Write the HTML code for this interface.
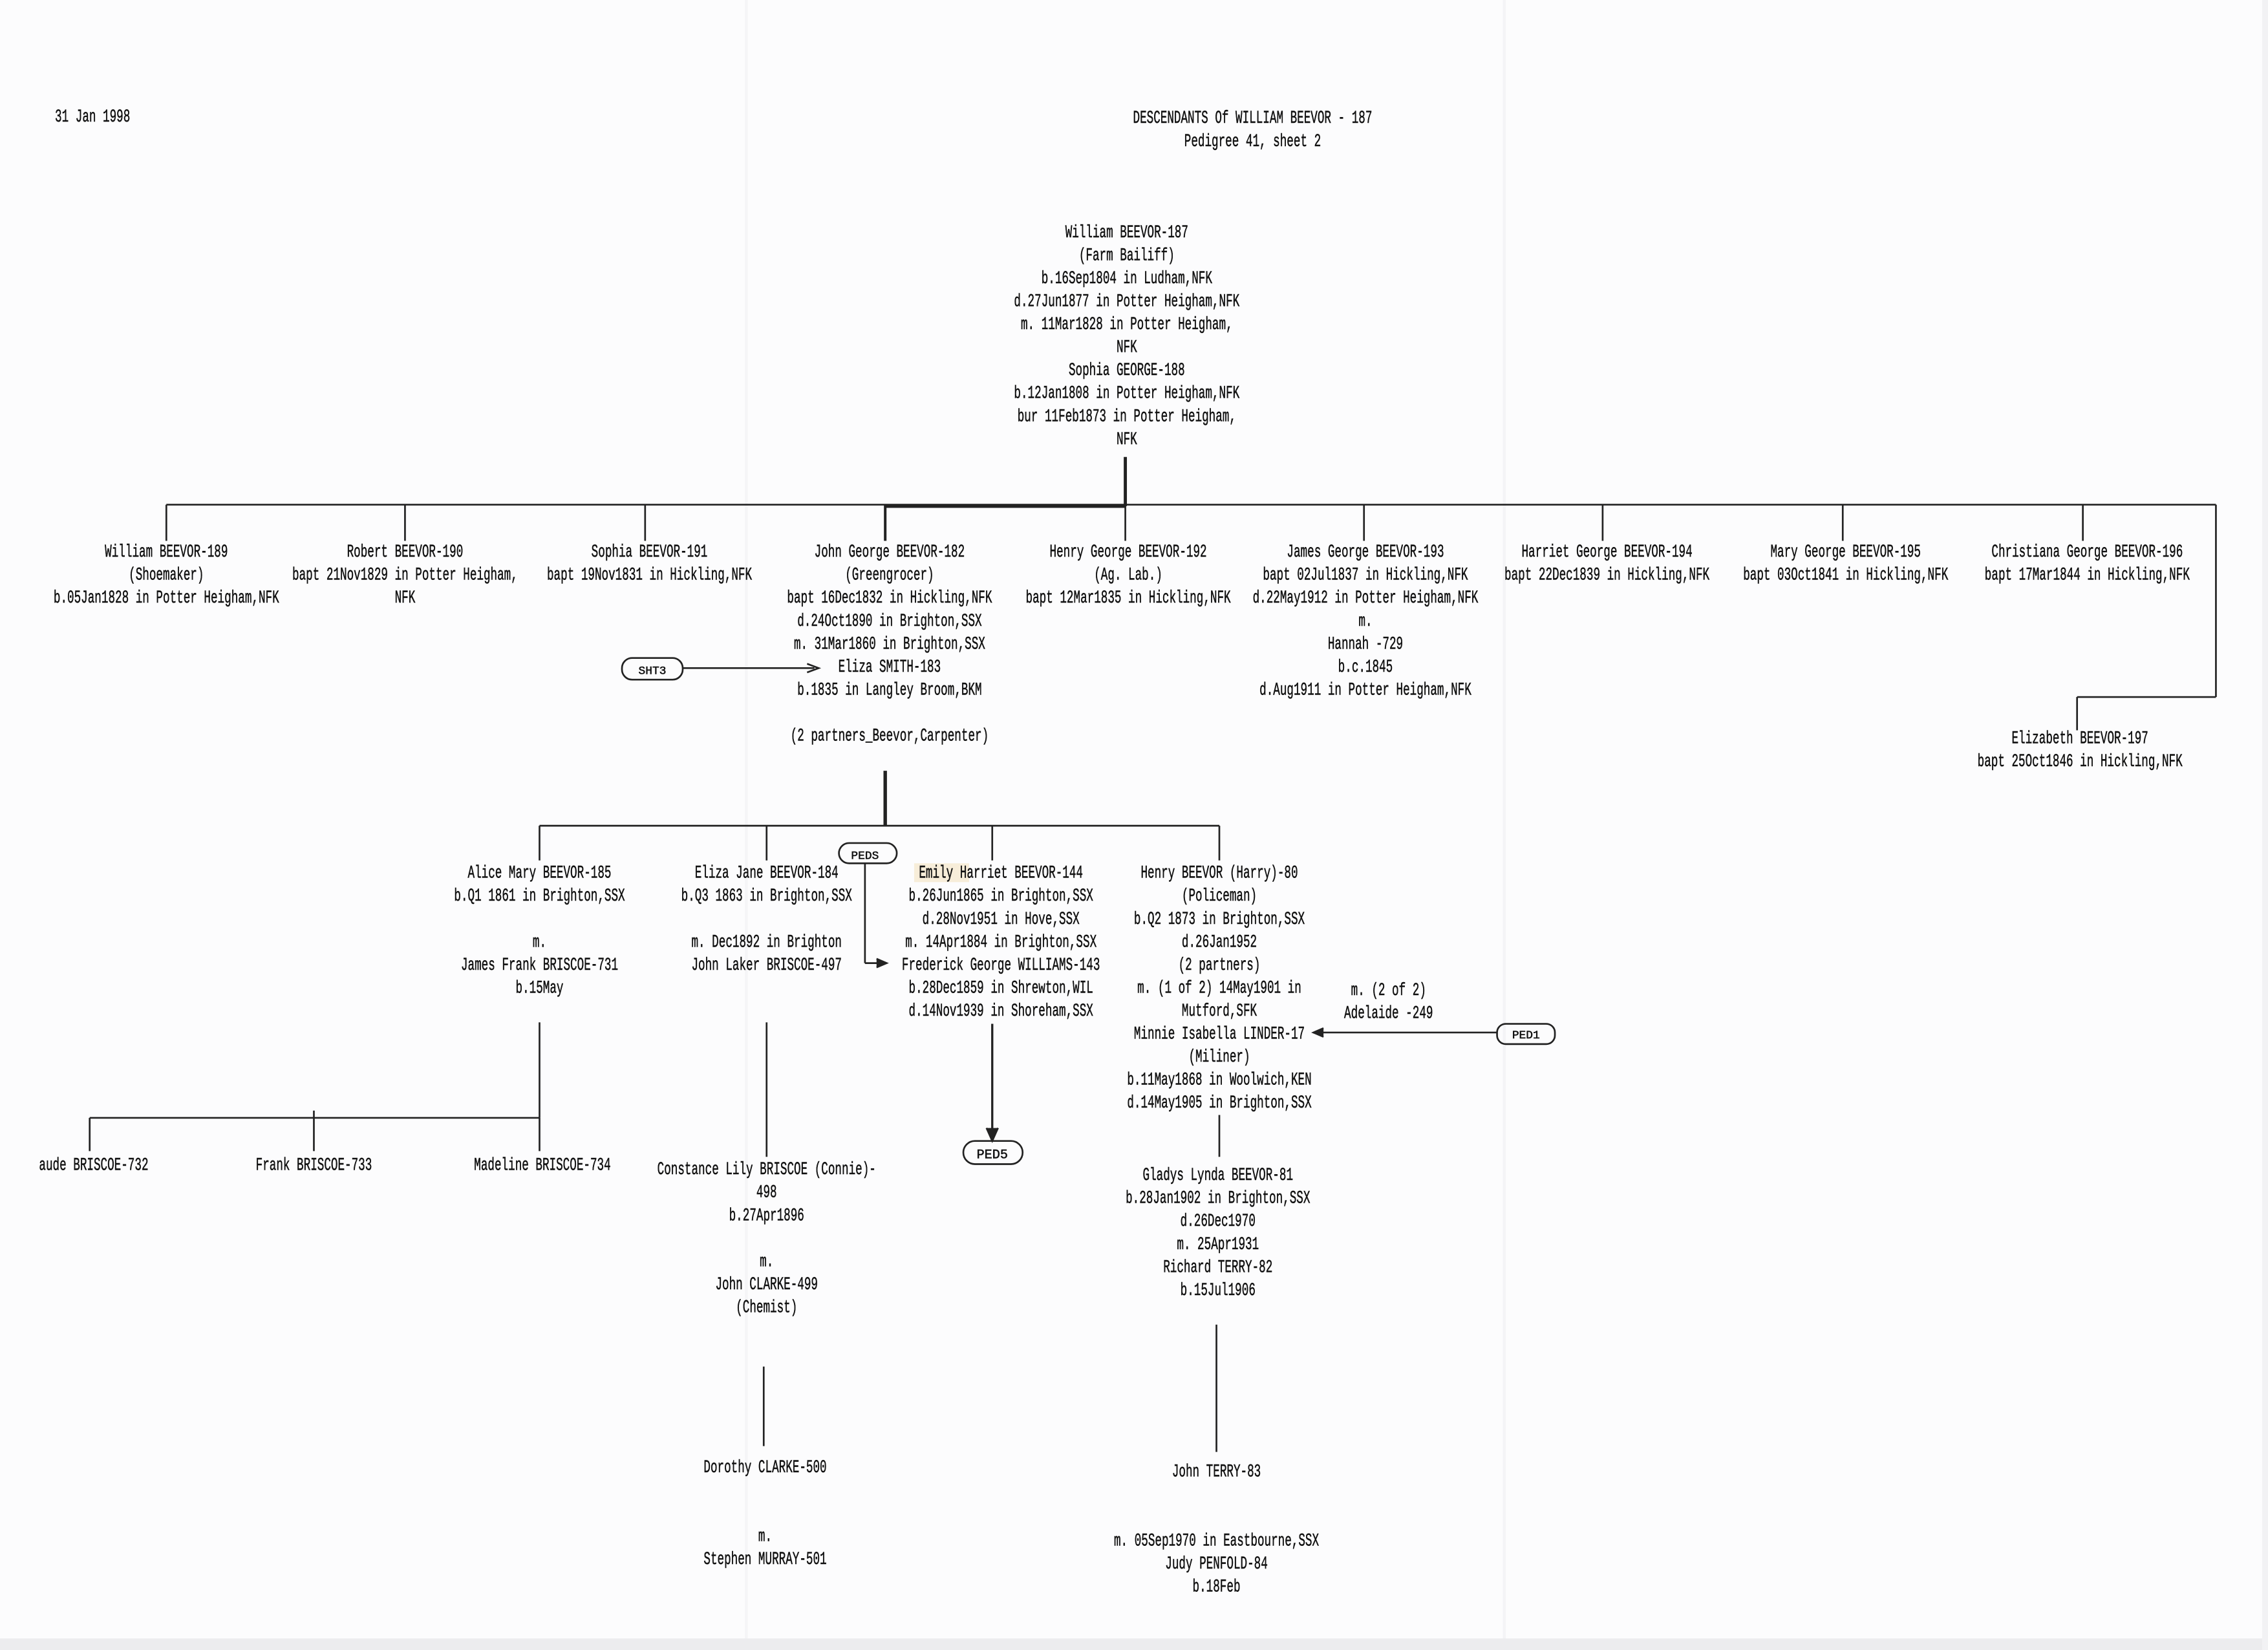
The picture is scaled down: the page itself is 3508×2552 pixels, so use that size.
<!DOCTYPE html>
<html><head><meta charset="utf-8"><style>
html,body{margin:0;padding:0;background:#fcfcfd;}
svg{display:block}
text{font-family:"Liberation Mono",monospace;font-size:12.5px;fill:#111;text-anchor:middle;stroke:#111;stroke-width:0.25px}
</style></head><body>
<svg width="3508" height="2552" viewBox="0 0 1568 1141" preserveAspectRatio="none" xmlns="http://www.w3.org/2000/svg">
<rect x="0" y="0" width="1568" height="1141" fill="#fcfcfd"/>
<rect x="515" y="0" width="2" height="1141" fill="#f5f5f7"/>
<rect x="1039" y="0" width="2" height="1141" fill="#f4f4f6"/>
<rect x="0" y="1133" width="1568" height="8" fill="#ececee"/>
<rect x="1564" y="0" width="4" height="1141" fill="#f2f2f4"/>

<g stroke="#222" fill="none" stroke-width="1.2">
<line x1="778" y1="316" x2="778" y2="350" stroke-width="2.2"/>
<line x1="115" y1="349" x2="1532" y2="349"/>
<line x1="612" y1="350" x2="778" y2="350" stroke-width="2.4"/>
<line x1="115" y1="349" x2="115" y2="374"/>
<line x1="280" y1="349" x2="280" y2="374"/>
<line x1="446" y1="349" x2="446" y2="374"/>
<line x1="612" y1="349" x2="612" y2="374" stroke-width="1.8"/>
<line x1="778" y1="349" x2="778" y2="374"/>
<line x1="943" y1="349" x2="943" y2="374"/>
<line x1="1108" y1="349" x2="1108" y2="374"/>
<line x1="1274" y1="349" x2="1274" y2="374"/>
<line x1="1440" y1="349" x2="1440" y2="374"/>
<line x1="1532" y1="349" x2="1532" y2="482"/>
<line x1="1436" y1="482" x2="1532" y2="482"/>
<line x1="1436" y1="482" x2="1436" y2="505"/>
<rect x="430" y="455" width="42" height="15" rx="7"/>
<line x1="472" y1="462" x2="563" y2="462"/>
<path d="M558 459 L566 462 L558 465"/>
<line x1="612" y1="533" x2="612" y2="571" stroke-width="2.4"/>
<line x1="373" y1="571" x2="843" y2="571"/>
<line x1="373" y1="571" x2="373" y2="595"/>
<line x1="530" y1="571" x2="530" y2="595"/>
<line x1="686" y1="571" x2="686" y2="595"/>
<line x1="843" y1="571" x2="843" y2="595"/>
<rect x="580" y="583" width="40" height="14" rx="7"/>
<line x1="598" y1="597" x2="598" y2="666"/>
<line x1="598" y1="666" x2="610" y2="666"/>
<path d="M606 663 L613 666 L606 669" fill="#222"/>
<rect x="1035" y="708" width="40" height="14" rx="6"/>
<line x1="910" y1="714" x2="1035" y2="714"/>
<path d="M915 711 L908 714 L915 717" fill="#222"/>
<line x1="373" y1="707" x2="373" y2="773"/>
<line x1="62" y1="773" x2="373" y2="773"/>
<line x1="62" y1="773" x2="62" y2="796"/>
<line x1="217" y1="768" x2="217" y2="796"/>
<line x1="373" y1="773" x2="373" y2="796"/>
<line x1="530" y1="707" x2="530" y2="800"/>
<line x1="686" y1="708" x2="686" y2="788" stroke-width="1.5"/>
<path d="M682 780 L686 789 L690 780" fill="#222"/>
<rect x="666" y="789" width="41" height="16" rx="8"/>
<line x1="843" y1="771" x2="843" y2="800"/>
<line x1="528" y1="945" x2="528" y2="1000"/>
<line x1="841" y1="916" x2="841" y2="1004"/>
</g>

<g>
<text x="598" y="594" style="font-size:8px">PEDS</text>
<text x="451" y="466" style="font-size:8px">SHT3</text>
<text x="1055" y="718" style="font-size:8px">PED1</text>
<text x="686" y="801" style="font-size:9px">PED5</text>
</g>

<g transform="translate(64,84) scale(.63,1)"><text>31 Jan 1998</text></g>
<g transform="translate(866,85) scale(.63,1)"><text><tspan x="0" y="0">DESCENDANTS Of WILLIAM BEEVOR - 187</tspan><tspan x="0" y="16">Pedigree 41, sheet 2</tspan></text></g>

<g transform="translate(779,164) scale(.63,1)"><text>
<tspan x="0" y="0">William BEEVOR-187</tspan><tspan x="0" y="15.9">(Farm Bailiff)</tspan><tspan x="0" y="31.8">b.16Sep1804 in Ludham,NFK</tspan><tspan x="0" y="47.7">d.27Jun1877 in Potter Heigham,NFK</tspan><tspan x="0" y="63.6">m. 11Mar1828 in Potter Heigham,</tspan><tspan x="0" y="79.5">NFK</tspan><tspan x="0" y="95.4">Sophia GEORGE-188</tspan><tspan x="0" y="111.3">b.12Jan1808 in Potter Heigham,NFK</tspan><tspan x="0" y="127.2">bur 11Feb1873 in Potter Heigham,</tspan><tspan x="0" y="143.1">NFK</tspan></text></g>

<g transform="translate(115,385) scale(.63,1)"><text><tspan x="0" y="0">William BEEVOR-189</tspan><tspan x="0" y="15.9">(Shoemaker)</tspan><tspan x="0" y="31.8">b.05Jan1828 in Potter Heigham,NFK</tspan></text></g>
<g transform="translate(280,385) scale(.63,1)"><text><tspan x="0" y="0">Robert BEEVOR-190</tspan><tspan x="0" y="15.9">bapt 21Nov1829 in Potter Heigham,</tspan><tspan x="0" y="31.8">NFK</tspan></text></g>
<g transform="translate(449,385) scale(.63,1)"><text><tspan x="0" y="0">Sophia BEEVOR-191</tspan><tspan x="0" y="15.9">bapt 19Nov1831 in Hickling,NFK</tspan></text></g>
<g transform="translate(615,385) scale(.63,1)"><text><tspan x="0" y="0">John George BEEVOR-182</tspan><tspan x="0" y="15.9">(Greengrocer)</tspan><tspan x="0" y="31.8">bapt 16Dec1832 in Hickling,NFK</tspan><tspan x="0" y="47.7">d.24Oct1890 in Brighton,SSX</tspan><tspan x="0" y="63.6">m. 31Mar1860 in Brighton,SSX</tspan><tspan x="0" y="79.5">Eliza SMITH-183</tspan><tspan x="0" y="95.4">b.1835 in Langley Broom,BKM</tspan><tspan x="0" y="127.2">(2 partners_Beevor,Carpenter)</tspan></text></g>
<g transform="translate(780,385) scale(.63,1)"><text><tspan x="0" y="0">Henry George BEEVOR-192</tspan><tspan x="0" y="15.9">(Ag. Lab.)</tspan><tspan x="0" y="31.8">bapt 12Mar1835 in Hickling,NFK</tspan></text></g>
<g transform="translate(944,385) scale(.63,1)"><text><tspan x="0" y="0">James George BEEVOR-193</tspan><tspan x="0" y="15.9">bapt 02Jul1837 in Hickling,NFK</tspan><tspan x="0" y="31.8">d.22May1912 in Potter Heigham,NFK</tspan><tspan x="0" y="47.7">m.</tspan><tspan x="0" y="63.6">Hannah -729</tspan><tspan x="0" y="79.5">b.c.1845</tspan><tspan x="0" y="95.4">d.Aug1911 in Potter Heigham,NFK</tspan></text></g>
<g transform="translate(1111,385) scale(.63,1)"><text><tspan x="0" y="0">Harriet George BEEVOR-194</tspan><tspan x="0" y="15.9">bapt 22Dec1839 in Hickling,NFK</tspan></text></g>
<g transform="translate(1276,385) scale(.63,1)"><text><tspan x="0" y="0">Mary George BEEVOR-195</tspan><tspan x="0" y="15.9">bapt 03Oct1841 in Hickling,NFK</tspan></text></g>
<g transform="translate(1443,385) scale(.63,1)"><text><tspan x="0" y="0">Christiana George BEEVOR-196</tspan><tspan x="0" y="15.9">bapt 17Mar1844 in Hickling,NFK</tspan></text></g>
<g transform="translate(1438,514) scale(.63,1)"><text><tspan x="0" y="0">Elizabeth BEEVOR-197</tspan><tspan x="0" y="15.9">bapt 25Oct1846 in Hickling,NFK</tspan></text></g>

<g transform="translate(373,607) scale(.63,1)"><text><tspan x="0" y="0">Alice Mary BEEVOR-185</tspan><tspan x="0" y="15.9">b.Q1 1861 in Brighton,SSX</tspan><tspan x="0" y="47.7">m.</tspan><tspan x="0" y="63.6">James Frank BRISCOE-731</tspan><tspan x="0" y="79.5">b.15May</tspan></text></g>
<g transform="translate(530,607) scale(.63,1)"><text><tspan x="0" y="0">Eliza Jane BEEVOR-184</tspan><tspan x="0" y="15.9">b.Q3 1863 in Brighton,SSX</tspan><tspan x="0" y="47.7">m. Dec1892 in Brighton</tspan><tspan x="0" y="63.6">John Laker BRISCOE-497</tspan></text></g>
<rect x="632" y="597" width="38" height="13" fill="#f4e3c2" opacity=".6"/>
<g transform="translate(692,607) scale(.63,1)"><text><tspan x="0" y="0">Emily Harriet BEEVOR-144</tspan><tspan x="0" y="15.9">b.26Jun1865 in Brighton,SSX</tspan><tspan x="0" y="31.8">d.28Nov1951 in Hove,SSX</tspan><tspan x="0" y="47.7">m. 14Apr1884 in Brighton,SSX</tspan><tspan x="0" y="63.6">Frederick George WILLIAMS-143</tspan><tspan x="0" y="79.5">b.28Dec1859 in Shrewton,WIL</tspan><tspan x="0" y="95.4">d.14Nov1939 in Shoreham,SSX</tspan></text></g>
<g transform="translate(843,607) scale(.63,1)"><text><tspan x="0" y="0">Henry BEEVOR (Harry)-80</tspan><tspan x="0" y="15.9">(Policeman)</tspan><tspan x="0" y="31.8">b.Q2 1873 in Brighton,SSX</tspan><tspan x="0" y="47.7">d.26Jan1952</tspan><tspan x="0" y="63.6">(2 partners)</tspan><tspan x="0" y="79.5">m. (1 of 2) 14May1901 in</tspan><tspan x="0" y="95.4">Mutford,SFK</tspan><tspan x="0" y="111.3">Minnie Isabella LINDER-17</tspan><tspan x="0" y="127.2">(Miliner)</tspan><tspan x="0" y="143.1">b.11May1868 in Woolwich,KEN</tspan><tspan x="0" y="159">d.14May1905 in Brighton,SSX</tspan></text></g>
<g transform="translate(960,688) scale(.63,1)"><text><tspan x="0" y="0">m. (2 of 2)</tspan><tspan x="0" y="15.9">Adelaide -249</tspan></text></g>

<g transform="translate(27,809) scale(.63,1)"><text style="text-anchor:start">aude BRISCOE-732</text></g>
<g transform="translate(217,809) scale(.63,1)"><text>Frank BRISCOE-733</text></g>
<g transform="translate(375,809) scale(.63,1)"><text>Madeline BRISCOE-734</text></g>
<g transform="translate(530,812) scale(.63,1)"><text><tspan x="0" y="0">Constance Lily BRISCOE (Connie)-</tspan><tspan x="0" y="15.9">498</tspan><tspan x="0" y="31.8">b.27Apr1896</tspan><tspan x="0" y="63.6">m.</tspan><tspan x="0" y="79.5">John CLARKE-499</tspan><tspan x="0" y="95.4">(Chemist)</tspan></text></g>
<g transform="translate(529,1018) scale(.63,1)"><text><tspan x="0" y="0">Dorothy CLARKE-500</tspan><tspan x="0" y="47.7">m.</tspan><tspan x="0" y="63.6">Stephen MURRAY-501</tspan></text></g>
<g transform="translate(842,816) scale(.63,1)"><text><tspan x="0" y="0">Gladys Lynda BEEVOR-81</tspan><tspan x="0" y="15.9">b.28Jan1902 in Brighton,SSX</tspan><tspan x="0" y="31.8">d.26Dec1970</tspan><tspan x="0" y="47.7">m. 25Apr1931</tspan><tspan x="0" y="63.6">Richard TERRY-82</tspan><tspan x="0" y="79.5">b.15Jul1906</tspan></text></g>
<g transform="translate(841,1021) scale(.63,1)"><text><tspan x="0" y="0">John TERRY-83</tspan><tspan x="0" y="47.7">m. 05Sep1970 in Eastbourne,SSX</tspan><tspan x="0" y="63.6">Judy PENFOLD-84</tspan><tspan x="0" y="79.5">b.18Feb</tspan></text></g>
</svg>
</body></html>
